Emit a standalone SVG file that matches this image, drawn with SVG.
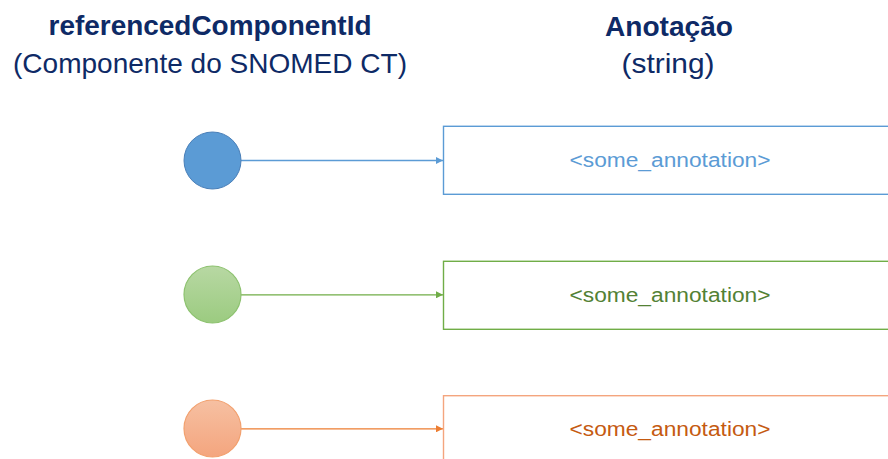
<svg xmlns="http://www.w3.org/2000/svg" width="888" height="459" viewBox="0 0 888 459">
  <defs>
    <linearGradient id="gGreen" x1="0" y1="0" x2="0" y2="1">
      <stop offset="0" stop-color="#B8D8A3"/>
      <stop offset="1" stop-color="#9BCB80"/>
    </linearGradient>
    <linearGradient id="gOrange" x1="0" y1="0" x2="0" y2="1">
      <stop offset="0" stop-color="#F6C0A2"/>
      <stop offset="1" stop-color="#F4A57E"/>
    </linearGradient>
    <marker id="aBlue" viewBox="0 0 10 10" refX="10" refY="5" markerWidth="8" markerHeight="7" markerUnits="userSpaceOnUse" orient="auto">
      <path d="M0,0 L10,5 L0,10 z" fill="#5B9BD5"/>
    </marker>
    <marker id="aGreen" viewBox="0 0 10 10" refX="10" refY="5" markerWidth="8" markerHeight="7" markerUnits="userSpaceOnUse" orient="auto">
      <path d="M0,0 L10,5 L0,10 z" fill="#70AD47"/>
    </marker>
    <marker id="aOrange" viewBox="0 0 10 10" refX="10" refY="5" markerWidth="8" markerHeight="7" markerUnits="userSpaceOnUse" orient="auto">
      <path d="M0,0 L10,5 L0,10 z" fill="#ED7D31"/>
    </marker>
  </defs>
  <style>
    .title { font-family: "Liberation Sans", Arial, sans-serif; font-size: 28px; font-weight: bold; fill: #0E2A66; text-anchor: middle; }
    .sub { font-family: "Liberation Sans", Arial, sans-serif; font-size: 28px; fill: #0E2A66; text-anchor: middle; }
    .ann { font-family: "Liberation Sans", Arial, sans-serif; font-size: 20px; text-anchor: middle; }
    .box { fill: #FFFFFF; stroke-width: 1.4; }
    .conn { fill: none; stroke-width: 1.3; }
  </style>
  <rect x="0" y="0" width="888" height="459" fill="#FFFFFF"/>

  <g id="headers">
    <text class="title" x="210" y="35" textLength="323" lengthAdjust="spacingAndGlyphs">referencedComponentId</text>
    <text class="sub" x="210" y="73" textLength="394" lengthAdjust="spacingAndGlyphs">(Componente do SNOMED CT)</text>
    <text class="title" x="669" y="36" textLength="128" lengthAdjust="spacingAndGlyphs">Anotação</text>
    <text class="sub" x="668" y="73" textLength="93" lengthAdjust="spacingAndGlyphs">(string)</text>
  </g>

  <g id="connectors">
    <line class="conn" x1="241" y1="160.5" x2="443" y2="160.5" stroke="#5B9BD5" marker-end="url(#aBlue)"/>
    <line class="conn" x1="241" y1="294.8" x2="443" y2="294.8" stroke="#70AD47" marker-end="url(#aGreen)"/>
    <line class="conn" x1="241" y1="428.8" x2="443" y2="428.8" stroke="#ED7D31" marker-end="url(#aOrange)"/>
  </g>

  <g id="node-blue-circle">
    <circle cx="212.5" cy="160.5" r="28.5" fill="#5B9BD5" stroke="#4A7FB8" stroke-width="1"/>
  </g>
  <g id="node-green-circle">
    <circle cx="212.5" cy="294.5" r="28.5" fill="url(#gGreen)" stroke="#8DC26F" stroke-width="1.2"/>
  </g>
  <g id="node-orange-circle">
    <circle cx="212.5" cy="428.5" r="28.5" fill="url(#gOrange)" stroke="#F2A06E" stroke-width="1.2"/>
  </g>

  <g id="node-blue-box">
    <rect class="box" x="443.5" y="126.3" width="460" height="68" stroke="#5B9BD5"/>
    <text class="ann" x="670" y="166.5" fill="#5B9BD5" textLength="201" lengthAdjust="spacingAndGlyphs">&lt;some_annotation&gt;</text>
  </g>
  <g id="node-green-box">
    <rect class="box" x="443.5" y="261.3" width="460" height="68" stroke="#70AD47"/>
    <text class="ann" x="670" y="301.5" fill="#538135" textLength="201" lengthAdjust="spacingAndGlyphs">&lt;some_annotation&gt;</text>
  </g>
  <g id="node-orange-box">
    <rect class="box" x="443.5" y="395.7" width="460" height="68" stroke="#F4A57E"/>
    <text class="ann" x="670" y="435.5" fill="#C55A11" textLength="201" lengthAdjust="spacingAndGlyphs">&lt;some_annotation&gt;</text>
  </g>
</svg>
